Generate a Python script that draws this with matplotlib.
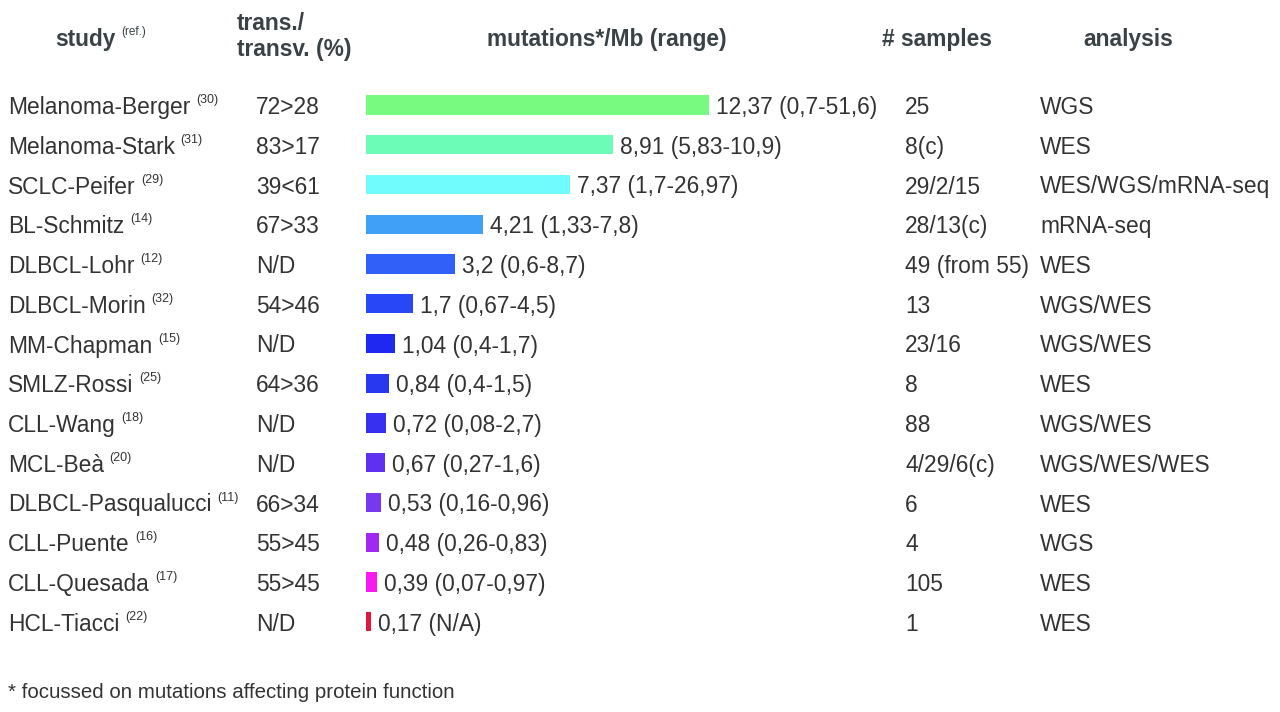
import matplotlib
matplotlib.use("Agg")
from matplotlib import pyplot as plt
from matplotlib import transforms

plt.rcParams['font.family'] = ['Liberation Sans', 'DejaVu Sans']

studies = ["Melanoma-Berger", "Melanoma-Stark", "SCLC-Peifer", "BL-Schmitz",
           "DLBCL-Lohr", "DLBCL-Morin", "MM-Chapman", "SMLZ-Rossi", "CLL-Wang",
           "MCL-Beà", "DLBCL-Pasqualucci", "CLL-Puente", "CLL-Quesada", "HCL-Tiacci"]
refs = ["30", "31", "29", "14", "12", "32", "15", "25", "18", "20", "11", "16", "17", "22"]
trans_transv = ["72>28", "83>17", "39<61", "67>33", "N/D", "54>46", "N/D", "64>36",
                "N/D", "N/D", "66>34", "55>45", "55>45", "N/D"]
mut_per_mb = [12.37, 8.91, 7.37, 4.21, 3.2, 1.7, 1.04, 0.84, 0.72, 0.67, 0.53, 0.48, 0.39, 0.17]
mut_labels = ["12,37 (0,7-51,6)", "8,91 (5,83-10,9)", "7,37 (1,7-26,97)", "4,21 (1,33-7,8)",
              "3,2 (0,6-8,7)", "1,7 (0,67-4,5)", "1,04 (0,4-1,7)", "0,84 (0,4-1,5)",
              "0,72 (0,08-2,7)", "0,67 (0,27-1,6)", "0,53 (0,16-0,96)", "0,48 (0,26-0,83)",
              "0,39 (0,07-0,97)", "0,17 (N/A)"]
samples = ["25", "8(c)", "29/2/15", "28/13(c)", "49 (from 55)", "13", "23/16", "8",
           "88", "4/29/6(c)", "6", "4", "105", "1"]
analysis = ["WGS", "WES", "WES/WGS/mRNA-seq", "mRNA-seq", "WES", "WGS/WES", "WGS/WES",
            "WES", "WGS/WES", "WGS/WES/WES", "WES", "WGS", "WES", "WES"]
colors = ["#78FA80", "#6CFCB8", "#70FCFC", "#40A0F8", "#3060F8", "#2848F8", "#1E28F0",
          "#2838F0", "#3830F0", "#6030F0", "#7838F0", "#A028F0", "#F818F0", "#E01840"]

W, H = 1280, 712
fig = plt.figure(figsize=(W / 100, H / 100), dpi=100)
ax = fig.add_axes([0, 0, 1, 1])
ax.axis("off")

# pixel layout: bar origin at x=366, 27.73 px per mutation/Mb; rows 39.75 px apart from y=105
px_unit = 343 / 12.37
ax.set_xlim(-366 / px_unit, (W - 366) / px_unit)
row_h = 39.75
ax.set_ylim((H - 105) / row_h, -105 / row_h)

rows = list(range(len(studies)))
ax.barh(rows, mut_per_mb, height=0.48, left=0, color=colors)

tc = "#333333"
hc = "#3a4246"
fs = 16.4
tr = transforms.blended_transform_factory(ax.transAxes, ax.transData)
fx = lambda px: px / W
va = "center_baseline"

for i in rows:
    t = ax.text(fx(8), i, studies[i], transform=tr, fontsize=fs, color=tc, va=va)
    ax.annotate("(" + refs[i] + ")", xy=(1, 0.5), xycoords=t, xytext=(4, 1),
                textcoords="offset points", fontsize=9, color=tc, va="bottom")
    ax.text(fx(256), i, trans_transv[i], transform=tr, fontsize=fs, color=tc, va=va)
    ax.annotate(mut_labels[i], xy=(mut_per_mb[i], i), xytext=(5, 0),
                textcoords="offset points", fontsize=fs, color=tc, va=va)
    ax.text(fx(905), i, samples[i], transform=tr, fontsize=fs, color=tc, va=va)
    ax.text(fx(1040), i, analysis[i], transform=tr, fontsize=fs, color=tc, va=va)

# headers
hfs = 16.4
hy = 1 - 37 / H
h = fig.text(fx(55), hy, "study", fontsize=hfs, fontweight="bold", color=hc, va=va)
ax.annotate("(ref.)", xy=(1, 0.5), xycoords=h, xytext=(4, 1), textcoords="offset points",
            fontsize=8.5, color=hc, va="bottom")
fig.text(fx(237), 1 - 21 / H, "trans./", fontsize=hfs, fontweight="bold", color=hc, va=va)
fig.text(fx(237), 1 - 47 / H, "transv. (%)", fontsize=hfs, fontweight="bold", color=hc, va=va)
fig.text(fx(607), hy, "mutations*/Mb (range)", fontsize=hfs, fontweight="bold", color=hc,
         va=va, ha="center")
fig.text(fx(882), hy, "# samples", fontsize=hfs, fontweight="bold", color=hc, va=va)
fig.text(fx(1083), hy, "analysis", fontsize=hfs, fontweight="bold", color=hc, va=va)

fig.text(fx(8), 1 - 690 / H, "* focussed on mutations affecting protein function",
         fontsize=14.8, color=tc, va=va)

fig.savefig("out.png", dpi=100, facecolor="white")
